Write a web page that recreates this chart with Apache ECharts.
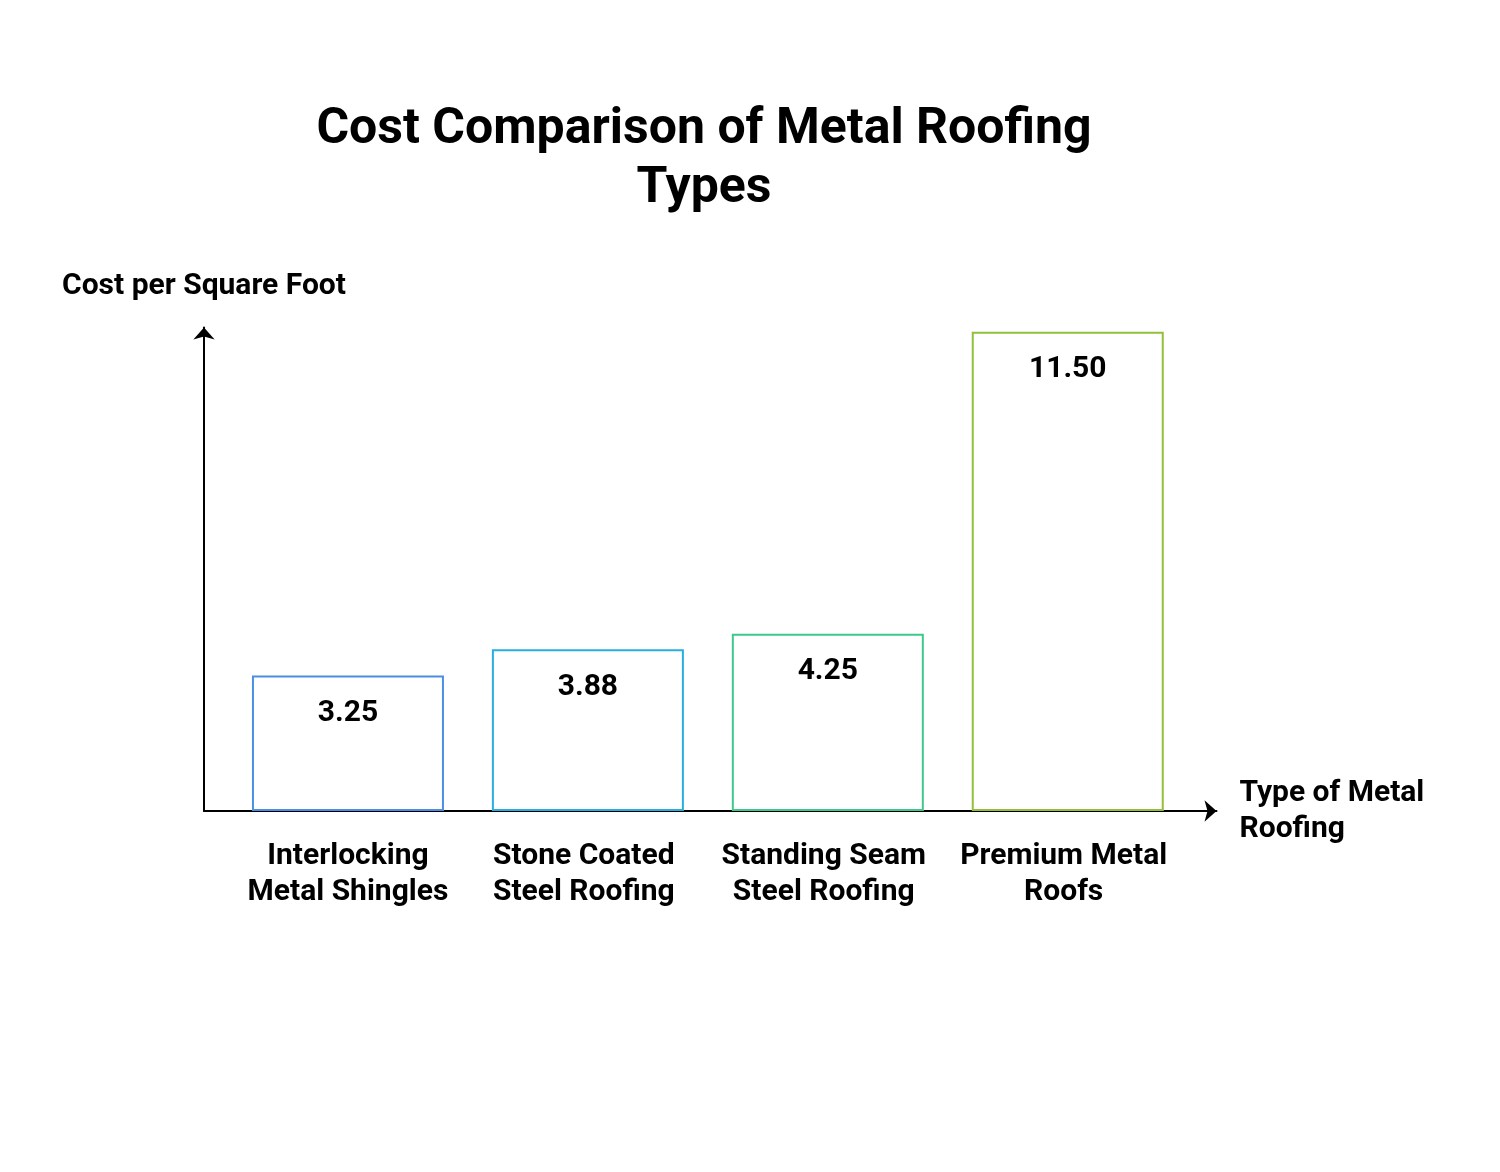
<!DOCTYPE html>
<html>
<head>
<meta charset="utf-8">
<script src="https://cdn.jsdelivr.net/npm/echarts@6/dist/echarts.min.js"></script>
<style>
  html, body { margin: 0; padding: 0; background: #fff; }
  #main { width: 1500px; height: 1172px; }
</style>
</head>
<body>
<div id="main"></div>
<script>
var categories = ['Interlocking\nMetal Shingles', 'Stone Coated\nSteel Roofing', 'Standing Seam\nSteel Roofing', 'Premium Metal\nRoofs'];
var costs = [3.25, 3.88, 4.25, 11.50];
var barColors = ['#4a8fe3', '#2aaddf', '#3ec98b', '#92bf3c'];
// where the category labels sit on the x scale (the source nudges the last three a little left)
var labelSpots = [0, 0.983, 1.983, 2.983];

var font = 'Roboto';

var barData = costs.map(function(v, i) {
    return {
        value: [i, v],
        itemStyle: { borderColor: barColors[i] }
    };
});

var myChart = echarts.init(document.getElementById('main'));

myChart.setOption({
    backgroundColor: '#fff',
    animation: false,
    title: {
        text: 'Cost Comparison of Metal Roofing\nTypes',
        left: 704,
        top: 101,
        textAlign: 'center',
        padding: 0,
        textStyle: {
            fontFamily: font,
            fontWeight: 'bold',
            fontSize: 50,
            lineHeight: 59,
            color: '#000'
        }
    },
    grid: {
        left: 204,
        top: 327.5,
        width: 1012.5,
        height: 483.5
    },
    xAxis: {
        type: 'value',
        min: -0.6,
        max: 3.62,
        name: 'Type of Metal\nRoofing',
        nameLocation: 'end',
        nameGap: 23,
        nameTextStyle: {
            fontFamily: font,
            fontWeight: 'bold',
            fontSize: 30,
            lineHeight: 36,
            color: '#000',
            align: 'left',
            padding: [14, 0, 0, 0]
        },
        axisLine: {
            show: true,
            onZero: false,
            symbol: ['none', 'arrow'],
            symbolSize: [16, 12],
            lineStyle: { color: '#000', width: 2 }
        },
        axisTick: { show: false },
        splitLine: { show: false },
        axisLabel: {
            customValues: labelSpots,
            margin: 27,
            fontFamily: font,
            fontWeight: 'bold',
            fontSize: 30,
            lineHeight: 36,
            color: '#000',
            formatter: function(v) {
                return categories[Math.round(v)];
            }
        }
    },
    yAxis: {
        type: 'value',
        min: 0,
        max: 11.6,
        name: 'Cost per Square Foot',
        nameLocation: 'end',
        nameGap: 26,
        nameTextStyle: {
            fontFamily: font,
            fontWeight: 'bold',
            fontSize: 30,
            lineHeight: 30,
            color: '#000'
        },
        axisLine: {
            show: true,
            onZero: false,
            symbol: ['none', 'arrow'],
            symbolSize: [16, 12],
            lineStyle: { color: '#000', width: 2 }
        },
        axisTick: { show: false },
        axisLabel: { show: false },
        splitLine: { show: false }
    },
    series: [{
        type: 'bar',
        barWidth: 192,
        data: barData,
        itemStyle: {
            color: 'rgba(255,255,255,0)',
            borderWidth: 2
        },
        label: {
            show: true,
            position: 'insideTop',
            distance: 23,
            fontFamily: font,
            fontWeight: 'bold',
            fontSize: 30,
            lineHeight: 30,
            color: '#000',
            formatter: function(p) {
                return p.value[1].toFixed(2);
            }
        }
    }]
});
</script>
</body>
</html>
